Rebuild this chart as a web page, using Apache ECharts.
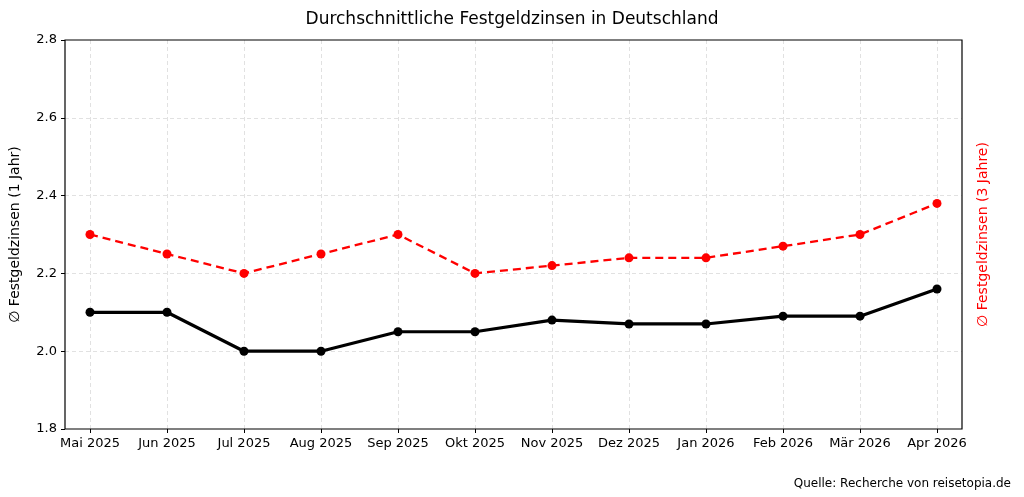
<!DOCTYPE html>
<html><head><meta charset="utf-8">
<script src="https://cdn.jsdelivr.net/npm/echarts@6/dist/echarts.min.js"></script>
<style>html,body{margin:0;padding:0;background:#fff}#c{width:1024px;height:497px}</style>
</head><body><div id="c"></div>
<script>
const categories = ['Mai 2025','Jun 2025','Jul 2025','Aug 2025','Sep 2025','Okt 2025','Nov 2025','Dez 2025','Jan 2026','Feb 2026','Mär 2026','Apr 2026'];
const zins1Jahr = [2.10, 2.10, 2.00, 2.00, 2.05, 2.05, 2.08, 2.07, 2.07, 2.09, 2.09, 2.16];
const zins3Jahre = [2.30, 2.25, 2.20, 2.25, 2.30, 2.20, 2.22, 2.24, 2.24, 2.27, 2.30, 2.38];
const yTicks = [1.8, 2.0, 2.2, 2.4, 2.6, 2.8];

const font = 'DejaVu Sans';
const chart = echarts.init(document.getElementById('c'), null, {renderer:'canvas'});
chart.setOption({
  animation:false,
  textStyle:{fontFamily:font},
  title:[
    {text:'Durchschnittliche Festgeldzinsen in Deutschland', left:'center', top:6,
     textStyle:{fontFamily:font, fontSize:17, fontWeight:'normal', color:'#000'}},
    {text:'Quelle: Recherche von reisetopia.de', right:8, top:473,
     textStyle:{fontFamily:font, fontSize:12, fontWeight:'normal', color:'#000'}}
  ],
  grid:[
    {left:65, right:62, top:40, bottom:68, show:true, borderColor:'#000', borderWidth:1.2,
     backgroundColor:'transparent', outerBoundsMode:'none', containLabel:false, z:5},
    {left:90, right:87, top:40, bottom:68, outerBoundsMode:'none', containLabel:false}
  ],
  xAxis:[
    {gridIndex:0, type:'value', min:0, max:1, show:false},
    {gridIndex:1, type:'category', data:categories, boundaryGap:false,
     axisLine:{show:false},
     axisTick:{show:true, alignWithLabel:true, length:4, lineStyle:{color:'#000'}},
     axisLabel:{color:'#000', fontSize:13, margin:8, interval:0, fontFamily:font},
     splitLine:{show:true, lineStyle:{color:'#d9d9d9', type:[4,3], width:0.8}}}
  ],
  yAxis:[
    {gridIndex:0, type:'value', min:1.8, max:2.8, interval:0.2,
     name:'∅ Festgeldzinsen (1 Jahr)', nameLocation:'middle', nameGap:43, nameRotate:90,
     nameTextStyle:{color:'#000', fontSize:14, fontFamily:font},
     axisLine:{show:false},
     axisTick:{show:true, length:4, lineStyle:{color:'#000'}},
     axisLabel:{color:'#000', fontSize:13, margin:8, fontFamily:font,
       formatter:v=>{const t=yTicks.find(x=>Math.abs(x-v)<1e-6);return t===undefined?'':t.toFixed(1);}},
     splitLine:{show:true, showMinLine:false, showMaxLine:false, lineStyle:{color:'#d9d9d9', type:[4,3], width:0.8}}},
    {gridIndex:0, type:'value', min:1.8, max:2.8, position:'right',
     name:'∅ Festgeldzinsen (3 Jahre)', nameLocation:'middle', nameGap:14, nameRotate:90,
     nameTextStyle:{color:'#ff0000', fontSize:14, fontFamily:font},
     axisLine:{show:false}, axisTick:{show:false}, axisLabel:{show:false}, splitLine:{show:false}},
    {gridIndex:1, type:'value', min:1.8, max:2.8, show:false, splitLine:{show:false}}
  ],
  series:[
    {type:'line', name:'1 Jahr', xAxisIndex:1, yAxisIndex:2, data:zins1Jahr,
     symbol:'circle', symbolSize:9, lineStyle:{color:'#000', width:3.2},
     itemStyle:{color:'#000'}, z:3},
    {type:'line', name:'3 Jahre', xAxisIndex:1, yAxisIndex:2, data:zins3Jahre,
     symbol:'circle', symbolSize:9, lineStyle:{color:'#ff0000', width:2.3, type:[8,5]},
     itemStyle:{color:'#ff0000'}, z:3}
  ]
});
</script></body></html>
